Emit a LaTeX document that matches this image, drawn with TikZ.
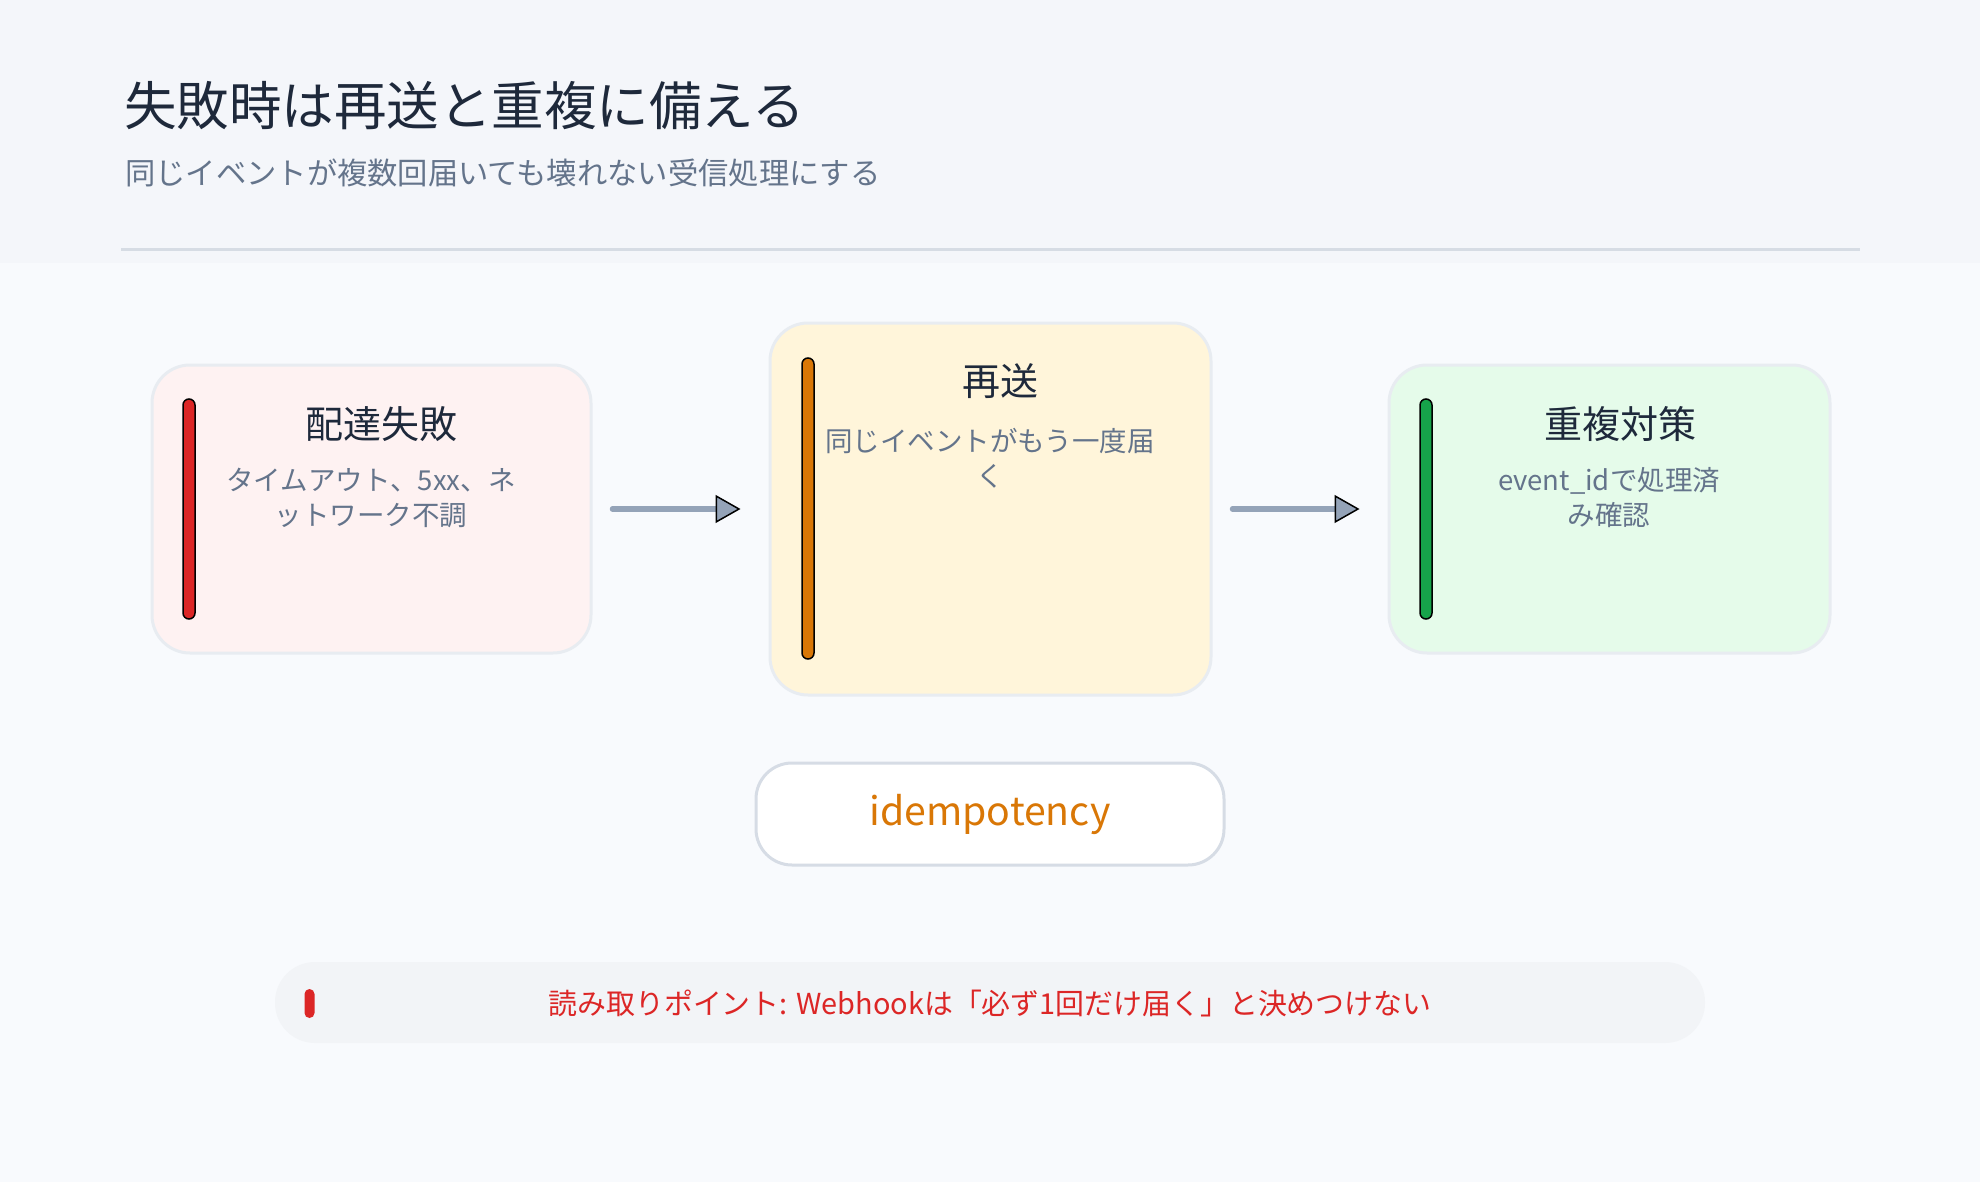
\documentclass[tikz,border=0pt]{standalone}
\usepackage{fontspec}
\setmainfont{Noto Sans CJK JP}
\usetikzlibrary{arrows.meta}
\definecolor{pagebg}{HTML}{F8FAFD}
\definecolor{headbg}{HTML}{F4F6FA}
\definecolor{divider}{HTML}{D6DCE4}
\definecolor{titlec}{HTML}{1E293B}
\definecolor{subc}{HTML}{64748B}
\definecolor{boxborder}{HTML}{E8ECF1}
\definecolor{redfill}{HTML}{FEF2F2}
\definecolor{yelfill}{HTML}{FFF5DA}
\definecolor{grnfill}{HTML}{E5FBEA}
\definecolor{redbar}{HTML}{DC2626}
\definecolor{orgbar}{HTML}{D97706}
\definecolor{grnbar}{HTML}{16A34A}
\definecolor{arrowc}{HTML}{94A3B8}
\definecolor{tagborder}{HTML}{D6DCE5}
\definecolor{footbg}{HTML}{F2F4F7}
\begin{document}
\begin{tikzpicture}[x=1pt,y=-1pt,
  stagebox/.style={draw=boxborder, line width=3pt, rounded corners=38pt, minimum width=439pt, inner sep=0pt},
  sidebar/.style={draw=black, line width=1.5pt, rounded corners=6pt, minimum width=12pt, inner sep=0pt},
  boxtitle/.style={text=titlec, font=\fontsize{38}{46}\selectfont, inner sep=0pt},
  boxdesc/.style={text=subc, font=\fontsize{27.5}{35}\selectfont, align=center, inner sep=0pt},
  flowarrow/.style={draw=arrowc, line width=5.5pt, line cap=round,
    -{Triangle[length=25pt,width=28pt,fill=arrowc,color=black,line width=1.5pt]}},
]
\useasboundingbox (0,0) rectangle (1980,1182);
\fill[pagebg] (0,0) rectangle (1980,1182);
\fill[headbg] (0,0) rectangle (1980,263);
\draw[divider, line width=3pt] (121,250) -- (1860,250);

\node[anchor=west, text=titlec, font=\fontsize{52.5}{62}\selectfont, inner sep=0pt] (title) at (124,106) {失敗時は再送と重複に備える};
\node[anchor=west, text=subc, font=\fontsize{30.3}{36}\selectfont, inner sep=0pt] (subtitle) at (125,173) {同じイベントが複数回届いても壊れない受信処理にする};

% boxes
\node[stagebox, fill=redfill, minimum height=288pt] (b1) at (371.5,509) {};
\node[stagebox, fill=yelfill, minimum height=372pt, minimum width=441pt] (b2) at (990.5,509) {};
\node[stagebox, fill=grnfill, minimum height=288pt, minimum width=441pt] (b3) at (1609.5,509) {};

% side bars
\node[sidebar, fill=redbar, minimum height=220pt] (bar1) at (189,509) {};
\node[sidebar, fill=orgbar, minimum height=301pt] (bar2) at (808,508.5) {};
\node[sidebar, fill=grnbar, minimum height=220pt] (bar3) at (1426,509) {};

% texts
\node[boxtitle] (t1) at (381,424) {配達失敗};
\node[boxdesc] (d1) at (371,498) {タイムアウト、5xx、ネ\\ットワーク不調};
\node[boxtitle] (t2) at (1000,381) {再送};
\node[boxdesc] (d2) at (990,458) {同じイベントがもう一度届\\く};
\node[boxtitle] (t3) at (1620,424) {重複対策};
\node[boxdesc] (d3) at (1609,498) {event\_idで処理済\\み確認};

% arrows
\draw[flowarrow, shorten <=20pt, shorten >=28pt] (b1.east) -- (b2.west);
\draw[flowarrow, shorten <=20pt, shorten >=28pt] (b2.east) -- (b3.west);

% tag
\node[draw=tagborder, fill=white, line width=3pt, rounded corners=36pt, minimum width=468pt, minimum height=102pt, inner sep=0pt,
  text=orgbar, font=\fontsize{39.2}{48}\selectfont] (tag) at (990,814) {idempotency};

% footer
\node[fill=footbg, rounded corners=40pt, minimum width=1430pt, minimum height=81pt, inner sep=0pt] (foot) at (990,1002.5) {};
\node[fill=redbar, rounded corners=5pt, minimum width=10pt, minimum height=29pt, inner sep=0pt] (footmark) at (309.5,1003.5) {};
\node[text=redbar, font=\fontsize{28.9}{35}\selectfont, inner sep=0pt] (foottext) at (990,1003) {読み取りポイント: Webhookは「必ず1回だけ届く」と決めつけない};
\end{tikzpicture}
\end{document}
